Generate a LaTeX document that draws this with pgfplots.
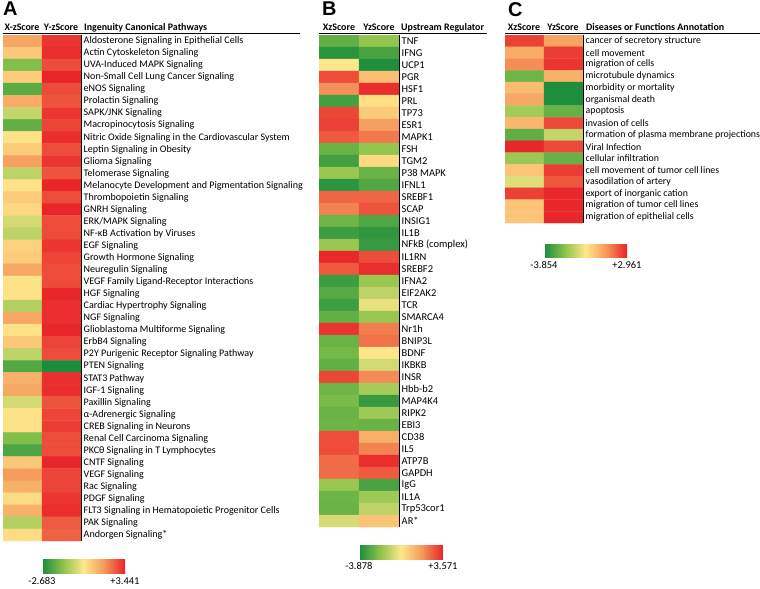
\documentclass[border=0pt]{standalone}
\usepackage{fontspec}
\setmainfont{Carlito}
\newfontfamily\arialfont{Liberation Sans}
\usepackage{pgfplots}
\pgfplotsset{compat=1.18}
\usepackage{pgfplotstable}

\pgfplotsset{colormap={gyr}{rgb255=(26,140,60) rgb255=(140,195,75) rgb255=(255,232,140) rgb255=(245,150,90) rgb255=(232,35,40)}}

\pgfplotstableread{
x y c
0 0 1.6
1 0 3.2
0 1 1.0
1 1 3.3
0 2 -1.3
1 2 2.9
0 3 0.9
1 3 3.4
0 4 -1.8
1 4 2.9
0 5 1.5
1 5 2.8
0 6 -0.4
1 6 3.2
0 7 -1.7
1 7 3.0
0 8 0.5
1 8 3.3
0 9 0.9
1 9 2.9
0 10 1.7
1 10 3.2
0 11 -0.5
1 11 2.8
0 12 0.5
1 12 3.4
0 13 0.9
1 13 2.9
0 14 0.7
1 14 3.4
0 15 -0.2
1 15 2.9
0 16 -0.5
1 16 2.9
0 17 0.8
1 17 3.2
0 18 0.9
1 18 3.0
0 19 1.6
1 19 2.9
0 20 0.5
1 20 2.9
0 21 0.5
1 21 3.4
0 22 -0.6
1 22 3.3
0 23 1.6
1 23 3.3
0 24 0.5
1 24 3.4
0 25 1.0
1 25 3.0
0 26 -0.5
1 26 2.9
0 27 -1.9
1 27 -2.68
0 28 1.4
1 28 3.3
0 29 1.6
1 29 3.3
0 30 -0.2
1 30 2.8
0 31 0.5
1 31 3.0
0 32 0.5
1 32 3.1
0 33 -1.3
1 33 2.9
0 34 -2.0
1 34 2.9
0 35 1.0
1 35 3.4
0 36 1.8
1 36 3.0
0 37 1.4
1 37 3.0
0 38 0.6
1 38 3.2
0 39 1.4
1 39 3.3
0 40 -0.6
1 40 2.7
0 41 0.6
1 41 2.6
}\tableA

\pgfplotstableread{
x y c
0 0 -2.7
1 0 -1.9
0 1 -3.6
1 1 -3.1
0 2 -0.1
1 2 -3.8
0 3 2.9
1 3 0.8
0 4 1.8
1 4 3.4
0 5 -3.2
1 5 0.1
0 6 3.0
1 6 0.5
0 7 3.1
1 7 1.5
0 8 2.7
1 8 2.2
0 9 -2.6
1 9 -1.9
0 10 -3.2
1 10 0.2
0 11 -1.8
1 11 -2.6
0 12 -3.6
1 12 -3.0
0 13 2.5
1 13 2.5
0 14 2.0
1 14 2.8
0 15 -2.5
1 15 -3.0
0 16 -3.3
1 16 -3.5
0 17 -1.8
1 17 -3.4
0 18 3.5
1 18 2.9
0 19 2.7
1 19 3.4
0 20 -3.3
1 20 -1.8
0 21 -2.9
1 21 -1.2
0 22 -3.3
1 22 -0.5
0 23 -2.7
1 23 -1.8
0 24 3.3
1 24 2.1
0 25 -2.6
1 25 2.3
0 26 -2.4
1 26 -0.1
0 27 -2.7
1 27 -0.9
0 28 3.0
1 28 1.9
0 29 -2.5
1 29 -1.6
0 30 -2.3
1 30 -3.4
0 31 -2.6
1 31 -1.7
0 32 -2.5
1 32 -2.6
0 33 2.9
1 33 1.2
0 34 2.9
1 34 2.0
0 35 2.4
1 35 3.4
0 36 2.4
1 36 2.7
0 37 -1.8
1 37 -3.1
0 38 -2.5
1 38 -1.7
0 39 -2.6
1 39 -1.2
0 40 -0.8
1 40 0.7
}\tableB

\pgfplotstableread{
x y c
0 0 2.5
1 0 1.0
0 1 0.8
1 1 2.6
0 2 1.4
1 2 2.7
0 3 -2.6
1 3 0.7
0 4 0.5
1 4 -3.8
0 5 0.9
1 5 -3.8
0 6 -1.8
1 6 -2.7
0 7 0.6
1 7 2.4
0 8 -2.8
1 8 -1.3
0 9 2.9
1 9 2.4
0 10 -1.9
1 10 -2.7
0 11 0.3
1 11 2.6
0 12 -0.9
1 12 2.2
0 13 2.5
1 13 2.9
0 14 0.3
1 14 2.9
0 15 0.3
1 15 2.9
}\tableC

\pgfplotsset{
  heat/.style={
    scale only axis, anchor=north west,
    xmin=-0.5, xmax=1.5, y dir=reverse,
    axis line style={draw=none},
    xtick=\empty, ytick pos=right,
    major tick length=0pt,
    yticklabel style={anchor=west, inner xsep=2.5bp},
    colormap name=gyr,
    colorbar horizontal,
  },
  cbar/.style={
    anchor=north west, scale only axis,
    height=14bp, major tick length=0pt,
    axis line style={draw=none},
    xticklabel style={font=\fontsize{10.5}{12}\selectfont},
  }
}
\newcommand{\hdr}{\bfseries\fontsize{10}{11}\selectfont}

\begin{document}
\begin{tikzpicture}
\useasboundingbox (0,0) rectangle (760bp,-589bp);

% Panel A
\node[anchor=north west, inner sep=0pt, font=\arialfont\bfseries\fontsize{20}{22}\selectfont] at (3bp,-2bp) {A};
\node[anchor=base, font=\hdr] at (22bp,-30bp) {X-zScore};
\node[anchor=base, font=\hdr] at (61bp,-30bp) {Y-zScore};
\node[anchor=base west, inner sep=0pt, font=\hdr] at (84bp,-30bp) {Ingenuity Canonical Pathways};
\draw[line width=1.2bp] (3bp,-33.5bp) -- (300bp,-33.5bp);
\begin{axis}[heat, at={(3bp,-35bp)}, width=78bp, height=506bp,
  ymin=-0.5, ymax=41.5,
  yticklabel style={font=\fontsize{10.1}{11}\selectfont},
  point meta min=-2.683, point meta max=3.441,
  ytick={0,...,41},
  yticklabels={Aldosterone Signaling in Epithelial Cells, Actin Cytoskeleton Signaling, UVA-Induced MAPK Signaling, Non-Small Cell Lung Cancer Signaling, eNOS Signaling, Prolactin Signaling, SAPK/JNK Signaling, Macropinocytosis Signaling, Nitric Oxide Signaling in the Cardiovascular System, Leptin Signaling in Obesity, Glioma Signaling, Telomerase Signaling, Melanocyte Development and Pigmentation Signaling, Thrombopoietin Signaling, GNRH Signaling, ERK/MAPK Signaling, NF-κB Activation by Viruses, EGF Signaling, Growth Hormone Signaling, Neuregulin Signaling, VEGF Family Ligand-Receptor Interactions, HGF Signaling, Cardiac Hypertrophy Signaling, NGF Signaling, Glioblastoma Multiforme Signaling, ErbB4 Signaling, P2Y Purigenic Receptor Signaling Pathway, PTEN Signaling, STAT3 Pathway, IGF-1 Signaling, Paxillin Signaling, α-Adrenergic Signaling, CREB Signaling in Neurons, Renal Cell Carcinoma Signaling, PKCθ Signaling in T Lymphocytes, CNTF Signaling, VEGF Signaling, Rac Signaling, PDGF Signaling, FLT3 Signaling in Hematopoietic Progenitor Cells, PAK Signaling, Andorgen Signaling*},
  colorbar style={cbar, at={(0.5,-0.0375)}, width=83bp, xtick={-2.683,3.441}, xticklabels={-2.683,+3.441}},
]
\addplot[matrix plot*, mesh/cols=2, point meta=explicit] table[x=x, y=y, meta=c] {\tableA};
\end{axis}
\draw[line width=0.8bp] (81bp,-35bp) -- (81bp,-541bp);

% Panel B
\node[anchor=north west, inner sep=0pt, font=\arialfont\bfseries\fontsize{20}{22}\selectfont] at (322bp,-2bp) {B};
\node[anchor=base, font=\hdr] at (339bp,-30bp) {XzScore};
\node[anchor=base, font=\hdr] at (379bp,-30bp) {YzScore};
\node[anchor=base west, inner sep=0pt, font=\hdr] at (401bp,-30bp) {Upstream Regulator};
\draw[line width=1.2bp] (319bp,-33.5bp) -- (487bp,-33.5bp);
\begin{axis}[heat, at={(319bp,-35bp)}, width=80bp, height=492bp,
  ymin=-0.5, ymax=40.5,
  yticklabel style={font=\fontsize{10.5}{11}\selectfont},
  point meta min=-3.878, point meta max=3.571,
  ytick={0,...,40},
  yticklabels={TNF, IFNG, UCP1, PGR, HSF1, PRL, TP73, ESR1, MAPK1, FSH, TGM2, P38 MAPK, IFNL1, SREBF1, SCAP, INSIG1, IL1B, NFkB (complex), IL1RN, SREBF2, IFNA2, EIF2AK2, TCR, SMARCA4, Nr1h, BNIP3L, BDNF, IKBKB, INSR, Hbb-b2, MAP4K4, RIPK2, EBI3, CD38, IL5, ATP7B, GAPDH, IgG, IL1A, Trp53cor1, AR*},
  colorbar style={cbar, at={(0.5,-0.0366)}, width=84bp, xtick={-3.878,3.571}, xticklabels={-3.878,+3.571}},
]
\addplot[matrix plot*, mesh/cols=2, point meta=explicit] table[x=x, y=y, meta=c] {\tableB};
\end{axis}
\draw[line width=0.8bp] (399bp,-35bp) -- (399bp,-527bp);

% Panel C
\node[anchor=north west, inner sep=0pt, font=\arialfont\bfseries\fontsize{20}{22}\selectfont] at (508bp,-2bp) {C};
\node[anchor=base, font=\hdr] at (524bp,-30bp) {XzScore};
\node[anchor=base, font=\hdr] at (563bp,-30bp) {YzScore};
\node[anchor=base west, inner sep=0pt, font=\hdr] at (586bp,-30bp) {Diseases or Functions Annotation};
\draw[line width=1.2bp] (505bp,-33.5bp) -- (760bp,-33.5bp);
\begin{axis}[heat, at={(505bp,-35bp)}, width=78bp, height=188bp,
  ymin=-0.5, ymax=15.5,
  yticklabel style={font=\fontsize{9.9}{11}\selectfont},
  point meta min=-3.854, point meta max=2.961,
  ytick={0,...,15},
  yticklabels={cancer of secretory structure, cell movement, migration of cells, microtubule dynamics, morbidity or mortality, organismal death, apoptosis, invasion of cells, formation of plasma membrane projections, Viral Infection, cellular infiltration, cell movement of tumor cell lines, vasodilation of artery, export of inorganic cation, migration of tumor cell lines, migration of epithelial cells},
  colorbar style={cbar, at={(0.5,-0.1117)}, width=83bp, xtick={-3.854,2.961}, xticklabels={-3.854,+2.961}},
]
\addplot[matrix plot*, mesh/cols=2, point meta=explicit] table[x=x, y=y, meta=c] {\tableC};
\end{axis}
\draw[line width=0.8bp] (583bp,-35bp) -- (583bp,-223bp);
\end{tikzpicture}
\end{document}
